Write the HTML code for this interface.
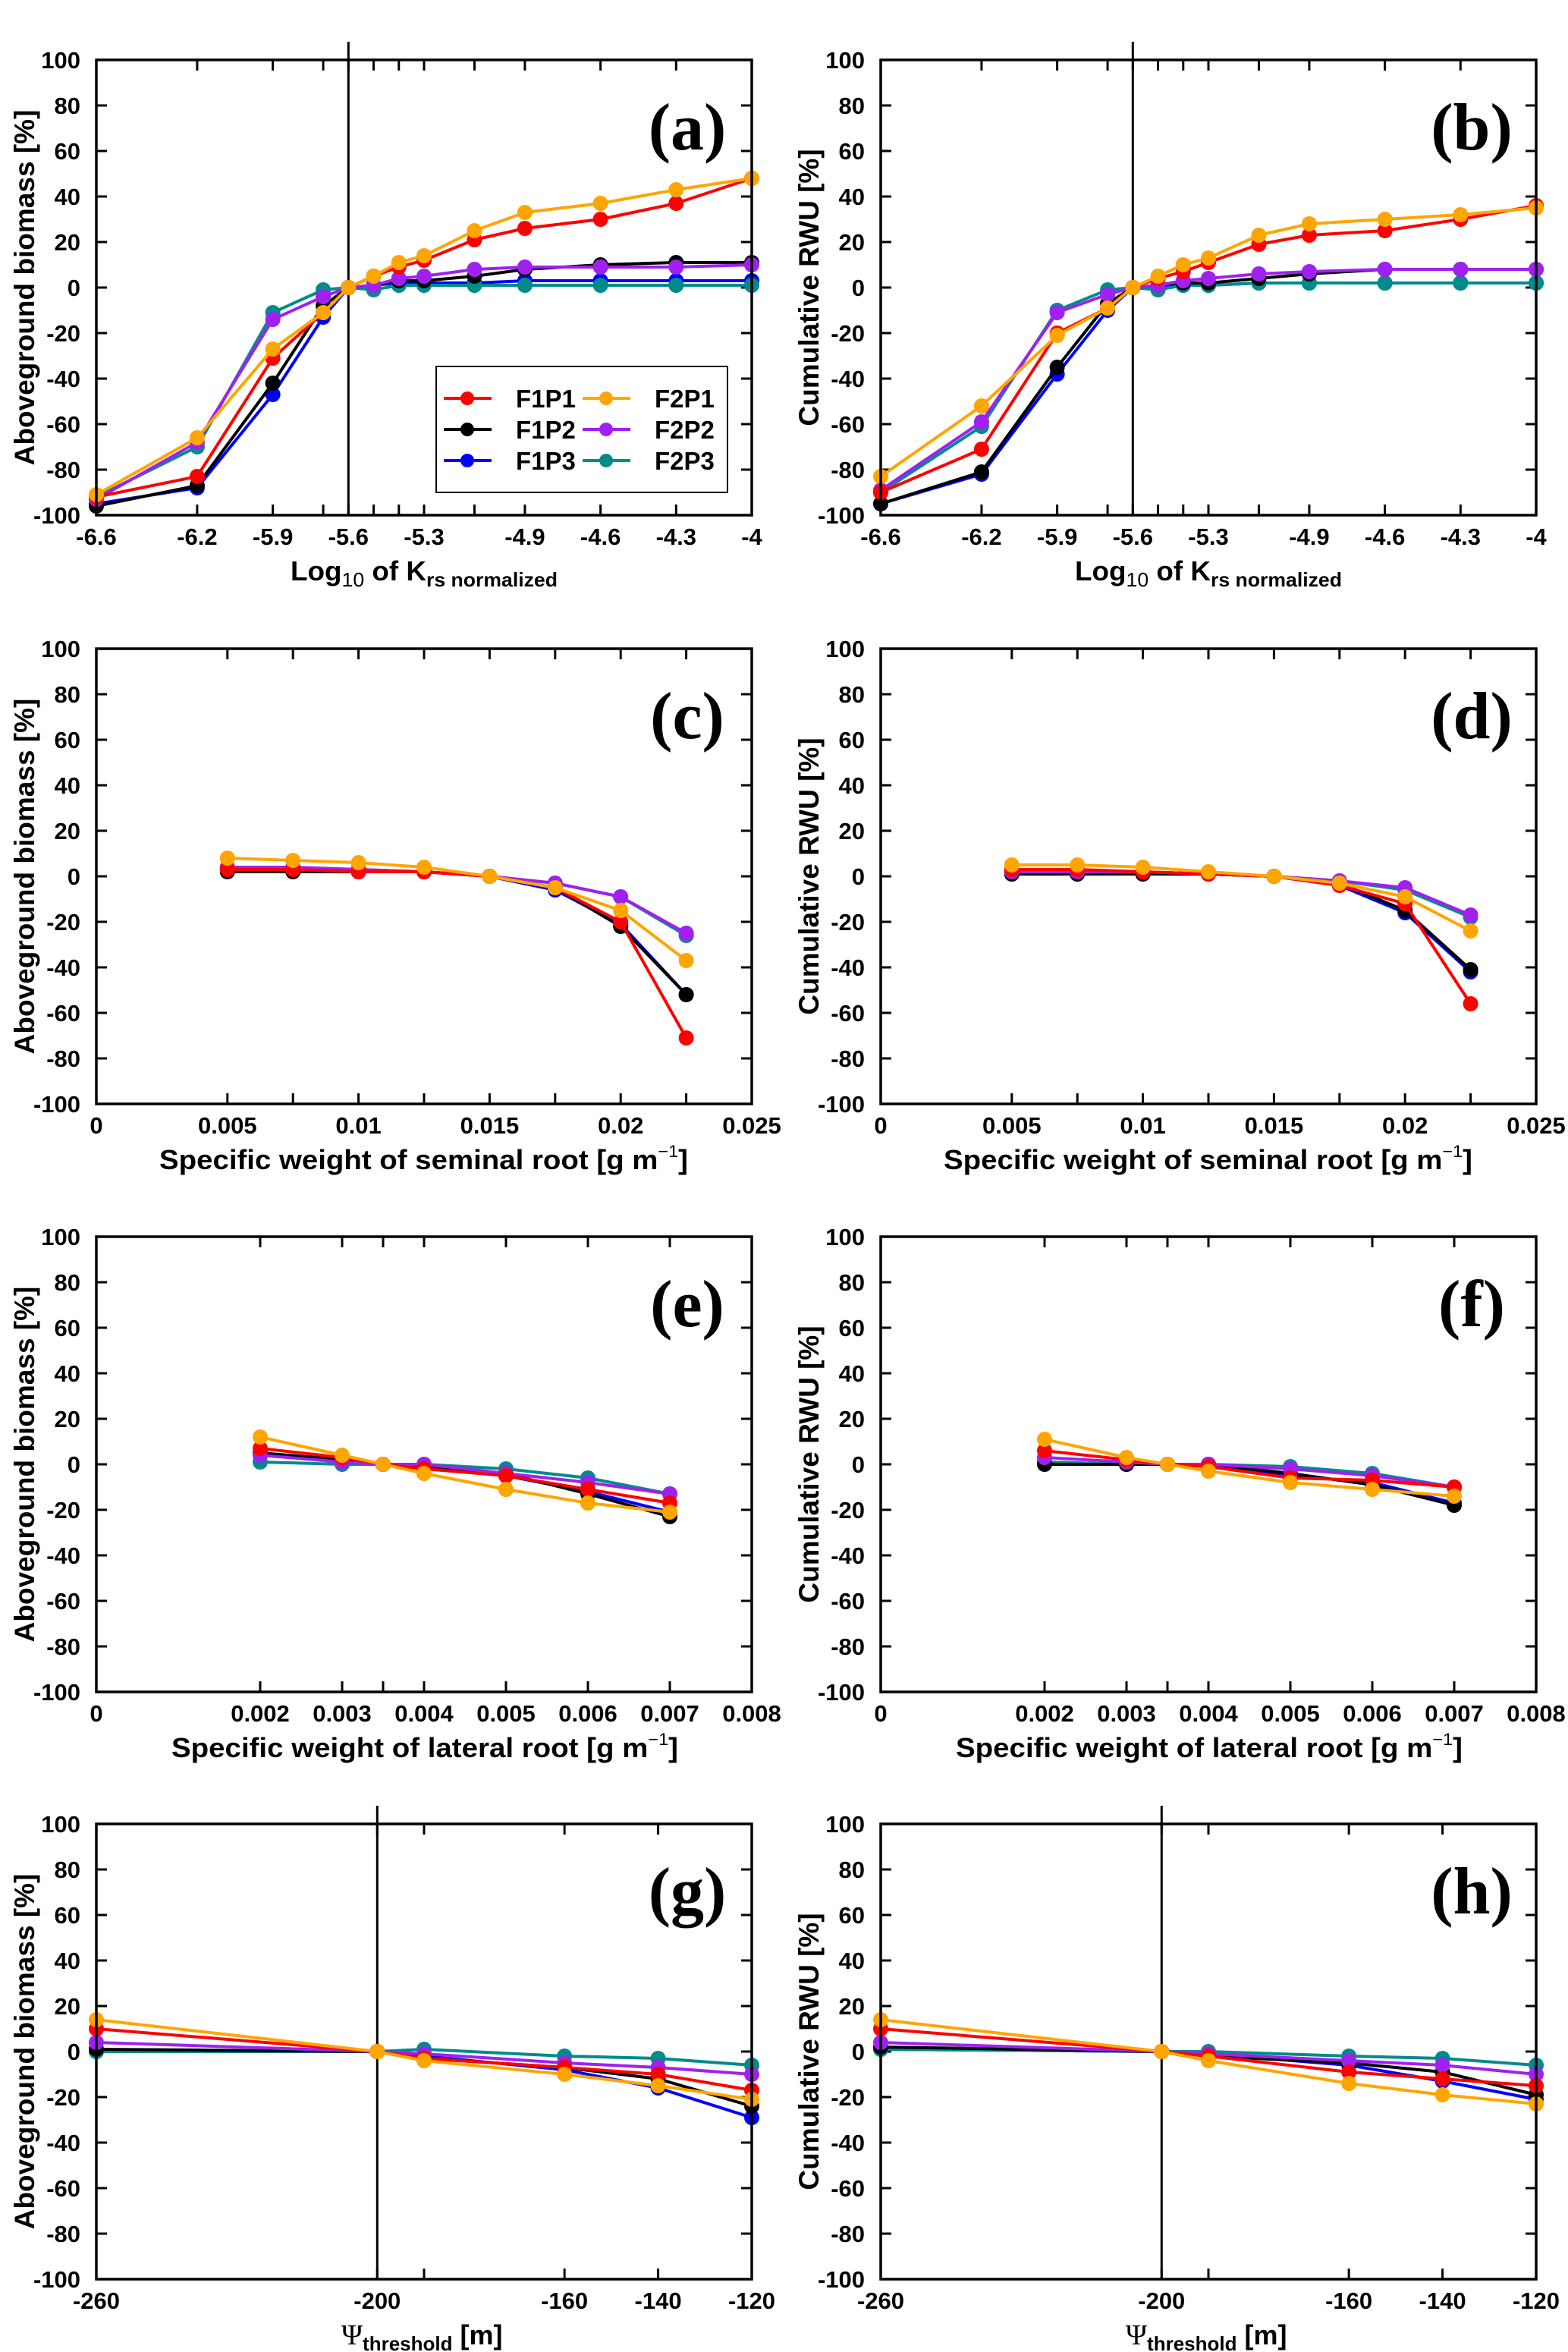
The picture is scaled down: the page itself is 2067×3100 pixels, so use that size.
<!DOCTYPE html>
<html><head><meta charset="utf-8"><title>Sensitivity figure</title>
<style>
html,body{margin:0;padding:0;background:#fff;}
svg{display:block;}
text{font-family:"Liberation Sans",Arial,sans-serif;font-weight:bold;fill:#000;}
.panel-letter{font-family:"Liberation Serif",serif;font-weight:bold;font-size:88px;}
</style></head>
<body>
<svg id="fig" width="2067" height="3100" viewBox="0 0 2067 3100" xmlns="http://www.w3.org/2000/svg"></svg>
<script>
const seriesNames = ["F1P1","F1P2","F1P3","F2P1","F2P2","F2P3"];
const seriesColors = ["#ff0000","#000000","#0000ff","#ffa500","#a020f0","#008b8b"];
const drawOrder = [2,5,1,4,0,3];

const krsX = [-6.6,-6.2,-5.9,-5.7,-5.6,-5.5,-5.4,-5.3,-5.1,-4.9,-4.6,-4.3,-4];
const aF1P1 = [-92,-83,-31,-11,0,5,9,12,21,26,30,37,48];
const aF1P2 = [-96,-87,-42,-8,0,1,3,3,5,8,10,11,11];
const aF1P3 = [-95,-88,-47,-13,0,1,2,2,2,3,3,3,3];
const aF2P1 = [-91,-66,-27,-11,0,5,11,14,25,33,37,43,48];
const aF2P2 = [-93,-68,-14,-4,0,1,4,5,8,9,9,9,10];
const aF2P3 = [-92,-70,-11,-1,0,-1,1,1,1,1,1,1,1];
const bF1P1 = [-90,-71,-20,-9,0,4,7,11,19,23,25,30,36];
const bF1P2 = [-95,-81,-35,-7,0,1,2,2,4,6,8,8,8];
const bF1P3 = [-95,-82,-38,-10,0,1,1,1,2,2,2,2,2];
const bF2P1 = [-83,-52,-21,-9,0,5,10,13,23,28,30,32,35];
const bF2P2 = [-89,-59,-11,-3,0,1,3,4,6,7,8,8,8];
const bF2P3 = [-90,-61,-10,-1,0,-1,1,1,2,2,2,2,2];
const krsTicks = [-6.6,-6.2,-5.9,-5.7,-5.6,-5.5,-5.4,-5.3,-5.1,-4.9,-4.6,-4.3,-4];
const krsTickLabels = ["-6.6","-6.2","-5.9","","-5.6","","","-5.3","","-4.9","-4.6","-4.3","-4"];

const semX = [0.005,0.0075,0.01,0.0125,0.015,0.0175,0.02,0.0225];
const cF1P1 = [3,3,2,2,0,-5,-20,-71];
const cF1P2 = [2,2,2,2,0,-5,-22,-52];
const cF1P3 = [3,3,2,2,0,-6,-21,-52];
const cF2P1 = [8,7,6,4,0,-5,-15,-37];
const cF2P2 = [4,4,3,2,0,-3,-9,-25];
const cF2P3 = [3,3,3,2,0,-3,-9,-26];
const dF1P1 = [3,3,2,1,0,-4,-12,-56];
const dF1P2 = [1,1,1,1,0,-3,-15,-41];
const dF1P3 = [1,1,1,1,0,-4,-16,-42];
const dF2P1 = [5,5,4,2,0,-3,-9,-24];
const dF2P2 = [2,2,2,1,0,-2,-5,-17];
const dF2P3 = [2,2,2,1,0,-2,-6,-18];
const semTicks = [0.005,0.0075,0.01,0.0125,0.015,0.0175,0.02,0.0225];
const semLabelVals = [0,0.005,0.01,0.015,0.02,0.025];
const semLabels = ["0","0.005","0.01","0.015","0.02","0.025"];

const latX = [0.002,0.003,0.0035,0.004,0.005,0.006,0.007];
const eF1P1 = [7,3,0,-2,-5,-11,-17];
const eF1P2 = [5,2,0,-1,-4,-13,-23];
const eF1P3 = [5,2,0,-1,-5,-12,-21];
const eF2P1 = [12,4,0,-4,-11,-17,-21];
const eF2P2 = [4,1,0,0,-4,-8,-13];
const eF2P3 = [1,0,0,0,-2,-6,-13];
const fF1P1 = [6,2,0,-1,-6,-7,-10];
const fF1P2 = [0,0,0,0,-4,-9,-18];
const fF1P3 = [1,0,0,0,-5,-8,-17];
const fF2P1 = [11,3,0,-3,-8,-11,-14];
const fF2P2 = [3,1,0,0,-2,-5,-10];
const fF2P3 = [1,0,0,0,-1,-4,-10];
const latTicks = [0.002,0.003,0.0035,0.004,0.005,0.006,0.007];
const latLabelVals = [0,0.002,0.003,0.004,0.005,0.006,0.007,0.008];
const latLabels = ["0","0.002","0.003","0.004","0.005","0.006","0.007","0.008"];

const psiX = [-260,-200,-190,-160,-140,-120];
const gF1P1 = [10,0,-3,-7,-10,-17];
const gF1P2 = [1,0,-3,-7,-12,-24];
const gF1P3 = [0,0,-2,-8,-16,-29];
const gF2P1 = [14,0,-4,-10,-15,-21];
const gF2P2 = [4,0,-1,-5,-7,-10];
const gF2P3 = [0,0,1,-2,-3,-6];
const hF1P1 = [10,0,-2,-9,-12,-15];
const hF1P2 = [2,0,-2,-5,-9,-19];
const hF1P3 = [1,0,-1,-6,-13,-21];
const hF2P1 = [14,0,-4,-14,-19,-23];
const hF2P2 = [4,0,-1,-4,-6,-10];
const hF2P3 = [1,0,0,-2,-3,-6];
const psiTicks = [-200,-190,-160,-140];
const psiLabelVals = [-260,-200,-160,-140,-120];
const psiLabels = ["-260","-200","-160","-140","-120"];

const yTicks = [-100,-80,-60,-40,-20,0,20,40,60,80,100];

const NS = "http://www.w3.org/2000/svg";
const svg = document.getElementById("fig");
function mk(tag, attrs, parent){
  const e = document.createElementNS(NS, tag);
  for (const k in attrs) e.setAttribute(k, attrs[k]);
  (parent||svg).appendChild(e);
  return e;
}
const PW = 864, PH = 600;

function panel(cfg){
  const g = mk("g", {});
  
  
  const ox = cfg.ox, oy = cfg.oy;
  const xs = v => ox + (v - cfg.xmin) / (cfg.xmax - cfg.xmin) * PW;
  const ys = v => oy + PH - (v + 100) / 200 * PH;
  yTicks.forEach(t => {
    const y = ys(t);
    if (t > -100 && t < 100) {
      const tl = mk("line", {x1:ox, y1:y, x2:ox+14, y2:y, stroke:"#000", "stroke-width":3}, g);
      
      
      const tr = mk("line", {x1:ox+PW-14, y1:y, x2:ox+PW, y2:y, stroke:"#000", "stroke-width":3}, g);
      
      
    }
    const lb = mk("text", {x:ox-21, y:y+11, "text-anchor":"end", "font-size":31}, g);
    lb.textContent = String(t);
    
    
  });
  cfg.ticks.forEach(t => {
    const x = xs(t);
    const tb = mk("line", {x1:x, y1:oy+PH, x2:x, y2:oy+PH-14, stroke:"#000", "stroke-width":3}, g);
    
    
    const tt = mk("line", {x1:x, y1:oy, x2:x, y2:oy+14, stroke:"#000", "stroke-width":3}, g);
    
    
  });
  cfg.labelVals.forEach((v, i) => {
    if (!cfg.labels[i]) return;
    const lb = mk("text", {x:xs(v), y:oy+PH+39, "text-anchor":"middle", "font-size":31}, g);
    lb.textContent = cfg.labels[i];
    
    
  });
  if (cfg.vline !== undefined) {
    const vl = mk("line", {x1:xs(cfg.vline), y1:oy-24, x2:xs(cfg.vline), y2:oy+PH, stroke:"#000", "stroke-width":3}, g);
    
    
  }
  drawOrder.forEach(si => {
    const vals = cfg.series[si];
    const sg = mk("g", {}, g);
    
    
    const pts = cfg.x.map((xv, i) => xs(xv).toFixed(1) + "," + ys(vals[i]).toFixed(1)).join(" ");
    const pl = mk("polyline", {points:pts, fill:"none", stroke:seriesColors[si], "stroke-width":4, "stroke-linejoin":"round"}, sg);
    
    
    cfg.x.forEach((xv, i) => {
      const c = mk("circle", {cx:xs(xv), cy:ys(vals[i]), r:10, fill:seriesColors[si]}, sg);
      
      
    });
  });
  const fr = mk("rect", {x:ox, y:oy, width:PW, height:PH, fill:"none", stroke:"#000", "stroke-width":3.5}, g);
  
  
  const yt = mk("text", {x:0, y:0, "text-anchor":"middle", "font-size":37, transform:"translate(" + (ox-82) + "," + (oy+PH/2) + ") rotate(-90)"}, g);
  yt.textContent = cfg.ytitle;
  
  
  const xt = mk("text", {x:ox+cfg.xtx, y:oy+PH+86, "font-size":36}, g);
  
  
  cfg.xtitle(xt);
  const pl = mk("text", {x:ox+779, y:oy+118, "text-anchor":"middle", "class":"panel-letter"}, g);
  pl.textContent = "(" + cfg.letter + ")";
  
  
  return {xs, ys, g};
}
function tspan(parent, txt, attrs){
  const t = mk("tspan", attrs||{}, parent);
  t.textContent = txt;
  return t;
}
const krsTitle = t => { t.setAttribute("textLength", 352); t.setAttribute("lengthAdjust","spacingAndGlyphs");
  tspan(t,"Log"); tspan(t,"10",{"font-size":26,"font-weight":"normal",dy:8}); tspan(t," of K",{dy:-8});
  tspan(t,"rs normalized",{"font-size":26,dy:8}); };
const semTitle = t => { t.setAttribute("textLength", 697); t.setAttribute("lengthAdjust","spacingAndGlyphs");
  tspan(t,"Specific weight of seminal root  [g m"); tspan(t,"−1",{"font-size":22,"font-weight":"normal",dy:-16}); tspan(t,"]",{dy:16}); };
const latTitle = t => { t.setAttribute("textLength", 668); t.setAttribute("lengthAdjust","spacingAndGlyphs");
  tspan(t,"Specific weight of lateral root  [g m"); tspan(t,"−1",{"font-size":22,"font-weight":"normal",dy:-16}); tspan(t,"]",{dy:16}); };
const psiTitle = t => { tspan(t,"Ψ",{"font-family":"Liberation Serif, serif","font-weight":"normal","font-size":38});
  tspan(t,"threshold",{"font-size":26,dy:8}); tspan(t," [m]",{dy:-8}); };

const rows = [79, 855, 1630, 2404];
const L = 127, R = 1161;
panel({letter:"a", ox:L, oy:rows[0], xmin:-6.6, xmax:-4, x:krsX, ticks:krsTicks, labelVals:krsTicks, labels:krsTickLabels, vline:-5.6,
  series:[aF1P1,aF1P2,aF1P3,aF2P1,aF2P2,aF2P3], ytitle:"Aboveground biomass [%]", xtitle:krsTitle, xtx:256});
panel({letter:"b", ox:R, oy:rows[0], xmin:-6.6, xmax:-4, x:krsX, ticks:krsTicks, labelVals:krsTicks, labels:krsTickLabels, vline:-5.6,
  series:[bF1P1,bF1P2,bF1P3,bF2P1,bF2P2,bF2P3], ytitle:"Cumulative RWU [%]", xtitle:krsTitle, xtx:256});
panel({letter:"c", ox:L, oy:rows[1], xmin:0, xmax:0.025, x:semX, ticks:semTicks, labelVals:semLabelVals, labels:semLabels,
  series:[cF1P1,cF1P2,cF1P3,cF2P1,cF2P2,cF2P3], ytitle:"Aboveground biomass [%]", xtitle:semTitle, xtx:83});
panel({letter:"d", ox:R, oy:rows[1], xmin:0, xmax:0.025, x:semX, ticks:semTicks, labelVals:semLabelVals, labels:semLabels,
  series:[dF1P1,dF1P2,dF1P3,dF2P1,dF2P2,dF2P3], ytitle:"Cumulative RWU [%]", xtitle:semTitle, xtx:83});
panel({letter:"e", ox:L, oy:rows[2], xmin:0, xmax:0.008, x:latX, ticks:latTicks, labelVals:latLabelVals, labels:latLabels,
  series:[eF1P1,eF1P2,eF1P3,eF2P1,eF2P2,eF2P3], ytitle:"Aboveground biomass [%]", xtitle:latTitle, xtx:99});
panel({letter:"f", ox:R, oy:rows[2], xmin:0, xmax:0.008, x:latX, ticks:latTicks, labelVals:latLabelVals, labels:latLabels,
  series:[fF1P1,fF1P2,fF1P3,fF2P1,fF2P2,fF2P3], ytitle:"Cumulative RWU [%]", xtitle:latTitle, xtx:99});
panel({letter:"g", ox:L, oy:rows[3], xmin:-260, xmax:-120, x:psiX, ticks:psiTicks, labelVals:psiLabelVals, labels:psiLabels, vline:-200,
  series:[gF1P1,gF1P2,gF1P3,gF2P1,gF2P2,gF2P3], ytitle:"Aboveground biomass [%]", xtitle:psiTitle, xtx:323});
panel({letter:"h", ox:R, oy:rows[3], xmin:-260, xmax:-120, x:psiX, ticks:psiTicks, labelVals:psiLabelVals, labels:psiLabels, vline:-200,
  series:[hF1P1,hF1P2,hF1P3,hF2P1,hF2P2,hF2P3], ytitle:"Cumulative RWU [%]", xtitle:psiTitle, xtx:323});

const lg = mk("g", {});


const lbox = mk("rect", {x:575, y:483, width:384, height:166, fill:"#fff", stroke:"#000", "stroke-width":2}, lg);


seriesNames.forEach((nm, i) => {
  const col = i < 3 ? 0 : 1, row = i % 3;
  const lx = col === 0 ? 585 : 768;
  const cy = 525 + row * 41;
  const eg = mk("g", {}, lg);
  
  
  mk("line", {x1:lx, y1:cy, x2:lx+63, y2:cy, stroke:seriesColors[i], "stroke-width":4}, eg);
  mk("circle", {cx:lx+31, cy:cy, r:9, fill:seriesColors[i]}, eg);
  const t = mk("text", {x:lx+95, y:cy+12, "font-size":33}, eg);
  t.textContent = nm;
});
</script>
</body></html>
